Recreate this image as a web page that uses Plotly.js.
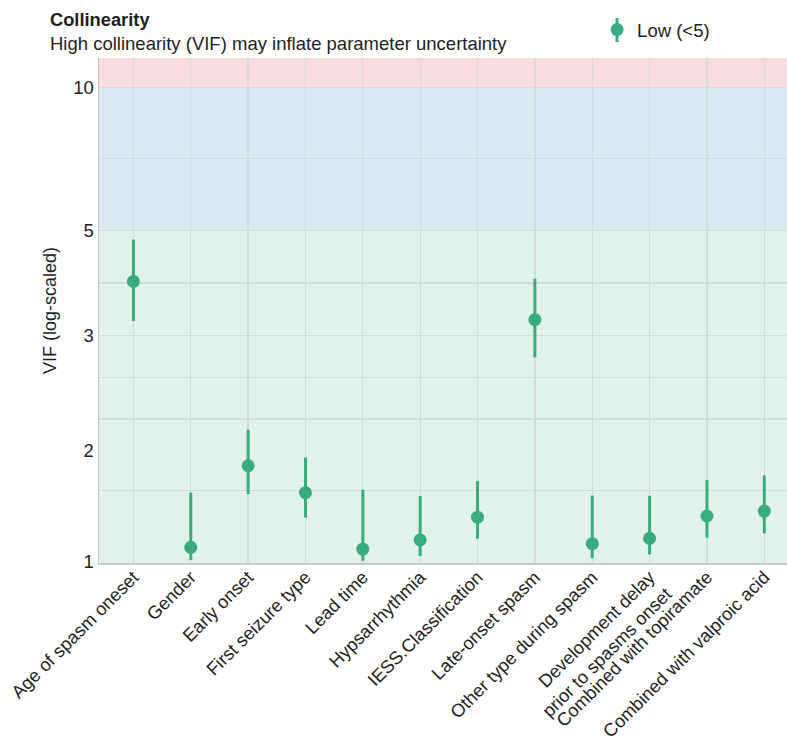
<!DOCTYPE html>
<html>
<head>
<meta charset="utf-8">
<script src="https://cdn.plot.ly/plotly-3.0.1.min.js"></script>
<style>html,body{margin:0;padding:0;background:#fff;}#chart{width:787px;height:742px;}</style>
</head>
<body>
<div id="chart"></div>
<script>
// ---- data ----
const categories = [
  "Age of spasm oneset", "Gender", "Early onset", "First seizure type", "Lead time",
  "Hypsarrhythmia", "IESS.Classification", "Late-onset spasm", "Other type during spasm",
  "Development delay<br>prior to spasms onset", "Combined with topiramate", "Combined with valproic acid"
];
const vif    = [3.90, 1.074, 1.595, 1.40, 1.065, 1.113, 1.243, 3.24, 1.093, 1.122, 1.25, 1.28];
const ciLow  = [3.22, 1.010, 1.390, 1.24, 1.006, 1.030, 1.120, 2.70, 1.018, 1.038, 1.125, 1.149];
const ciHigh = [4.78, 1.400, 1.900, 1.66, 1.420, 1.377, 1.480, 3.95, 1.380, 1.379, 1.488, 1.522];
const yTickVals = [1, 1.72, 3, 5, 10];
const yTickText = ["1", "2", "3", "5", "10"];
const yGridVals = [1.414, 2, 2.449, 3, 3.873, 5, 7.071, 10];
const bandEdges = [0.9, 5, 10, 20];
const bandColors = ["#e1f2eb", "#dce8f1", "#f9dcdf"];
const seriesName = "Low (<5)";

const green = "#38ab80";
const font = "Liberation Sans, Arial, Helvetica, sans-serif";
const txt = "#1e1e1e";

const trace = {
  type: "scatter", mode: "markers", name: seriesName,
  x: categories, y: vif,
  marker: { color: green, size: 13 },
  error_y: {
    type: "data", symmetric: false,
    array: ciHigh.map((h, i) => h - vif[i]),
    arrayminus: ciLow.map((l, i) => vif[i] - l),
    color: green, thickness: 3, width: 0
  },
  showlegend: true
};

const shapes = bandColors.map((c, i) => ({
  type: "rect", xref: "paper", yref: "y", x0: 0, x1: 1,
  y0: bandEdges[i], y1: bandEdges[i + 1],
  fillcolor: c, line: { width: 0 }, layer: "below"
}));
// vertical stroke through the legend symbol (error bar look)
shapes.push({
  type: "line", xref: "paper", yref: "paper",
  x0: 0.7529, x1: 0.7529, y0: 1.0317, y1: 1.0792,
  line: { color: green, width: 3 }
});

const layout = {
  width: 787, height: 742,
  margin: { l: 99, r: 0, t: 58, b: 179 },
  paper_bgcolor: "#ffffff", plot_bgcolor: "rgba(0,0,0,0)",
  font: { family: font, size: 18, color: txt },
  showlegend: true,
  legend: {
    orientation: "h", x: 0.724, xanchor: "left", y: 1.0554, yanchor: "middle",
    bgcolor: "rgba(0,0,0,0)", font: { family: font, size: 18.5, color: txt }
  },
  xaxis: {
    type: "category", range: [-0.6, 11.396],
    tickangle: -45, tickfont: { family: font, size: 18.2, color: txt },
    ticklabelstandoff: -5,
    showgrid: true, gridcolor: "#d2dbd8", gridwidth: 1.3,
    showline: true, linecolor: "#c8c8c8", linewidth: 1.5,
    ticks: "", zeroline: false, automargin: false
  },
  yaxis: {
    type: "log", range: [Math.log10(0.9952), Math.log10(11.53)],
    tickmode: "array", tickvals: yTickVals, ticktext: yTickText,
    tickfont: { family: font, size: 18.5, color: txt },
    showgrid: false, ticks: "",
    minor: { tickmode: "array", tickvals: yGridVals, showgrid: true, gridcolor: "#d2dbd8", gridwidth: 1.3, ticks: "" },
    showline: true, linecolor: "#c8c8c8", linewidth: 1.5,
    zeroline: false, automargin: false,
    title: { text: "VIF (log-scaled)", font: { family: font, size: 18, color: txt }, standoff: 12 }
  },
  shapes: shapes,
  annotations: [
    { xref: "paper", yref: "paper", x: -0.0741, y: 1.0772, xanchor: "left", yanchor: "middle",
      text: "<b>Collinearity</b>", showarrow: false, font: { family: font, size: 18.3, color: txt } },
    { xref: "paper", yref: "paper", x: -0.0741, y: 1.0287, xanchor: "left", yanchor: "middle",
      text: "High collinearity (VIF) may inflate parameter uncertainty", showarrow: false,
      font: { family: font, size: 18.5, color: txt } }
  ]
};

Plotly.newPlot("chart", [trace], layout, { displayModeBar: false, staticPlot: true });
</script>
</body>
</html>
